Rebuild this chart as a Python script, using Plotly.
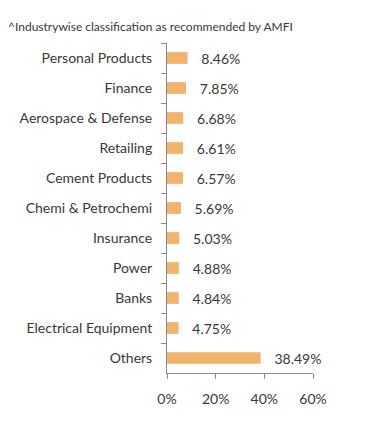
import plotly.graph_objects as go

categories = ["Personal Products", "Finance", "Aerospace & Defense", "Retailing",
              "Cement Products", "Chemi & Petrochemi", "Insurance", "Power",
              "Banks", "Electrical Equipment", "Others"]
values = [8.46, 7.85, 6.68, 6.61, 6.57, 5.69, 5.03, 4.88, 4.84, 4.75, 38.49]
x_ticks = [0, 20, 40, 60]
x_tick_labels = ["0%", "20%", "40%", "60%"]
title_text = "^Industrywise classification as recommended by AMFI"

FONT = "Lato"
TXT = "#383838"
AX = "#8a8a8a"
W = 400

fig = go.Figure(go.Bar(
    y=categories, x=values, orientation="h",
    marker=dict(color="#F2B36C", line=dict(width=0)),
    text=["   %.2f%%" % v for v in values],
    textposition="outside", cliponaxis=False, constraintext="none",
    textfont=dict(family=FONT, size=14, color=TXT, weight=W),
    hoverinfo="skip",
))

fig.update_layout(
    width=391, height=427,
    margin=dict(l=167, r=78, t=43, b=54, autoexpand=False),
    paper_bgcolor="white", plot_bgcolor="white",
    bargap=0.61, showlegend=False,
    font=dict(family=FONT, size=14, color=TXT, weight=W),
    annotations=[dict(text=title_text, xref="paper", yref="paper",
                      x=-161/146, y=1 + 16/330, xanchor="left", yanchor="middle",
                      showarrow=False, font=dict(family=FONT, size=12, color=TXT, weight=W))],
)
fig.update_xaxes(range=[0, 60], tickvals=x_ticks, ticktext=x_tick_labels,
                 showgrid=False, zeroline=False, showline=True, linecolor=AX,
                 linewidth=1, ticks="outside", ticklen=5, tickcolor=AX,
                 automargin=False, ticklabelstandoff=8,
                 tickfont=dict(family=FONT, size=14, color=TXT, weight=W))
fig.update_yaxes(autorange="reversed", categoryorder="array", categoryarray=categories,
                 showgrid=False, zeroline=False, showline=True, linecolor=AX,
                 linewidth=1, ticks="outside", ticklen=5, tickcolor=AX,
                 tickson="boundaries", ticklabelstandoff=11, automargin=False,
                 tickfont=dict(family=FONT, size=14, color=TXT, weight=W))

fig.write_html("out.html", config={"displayModeBar": False},
               post_script="document.body.style.margin='0';document.body.style.padding='0';")
